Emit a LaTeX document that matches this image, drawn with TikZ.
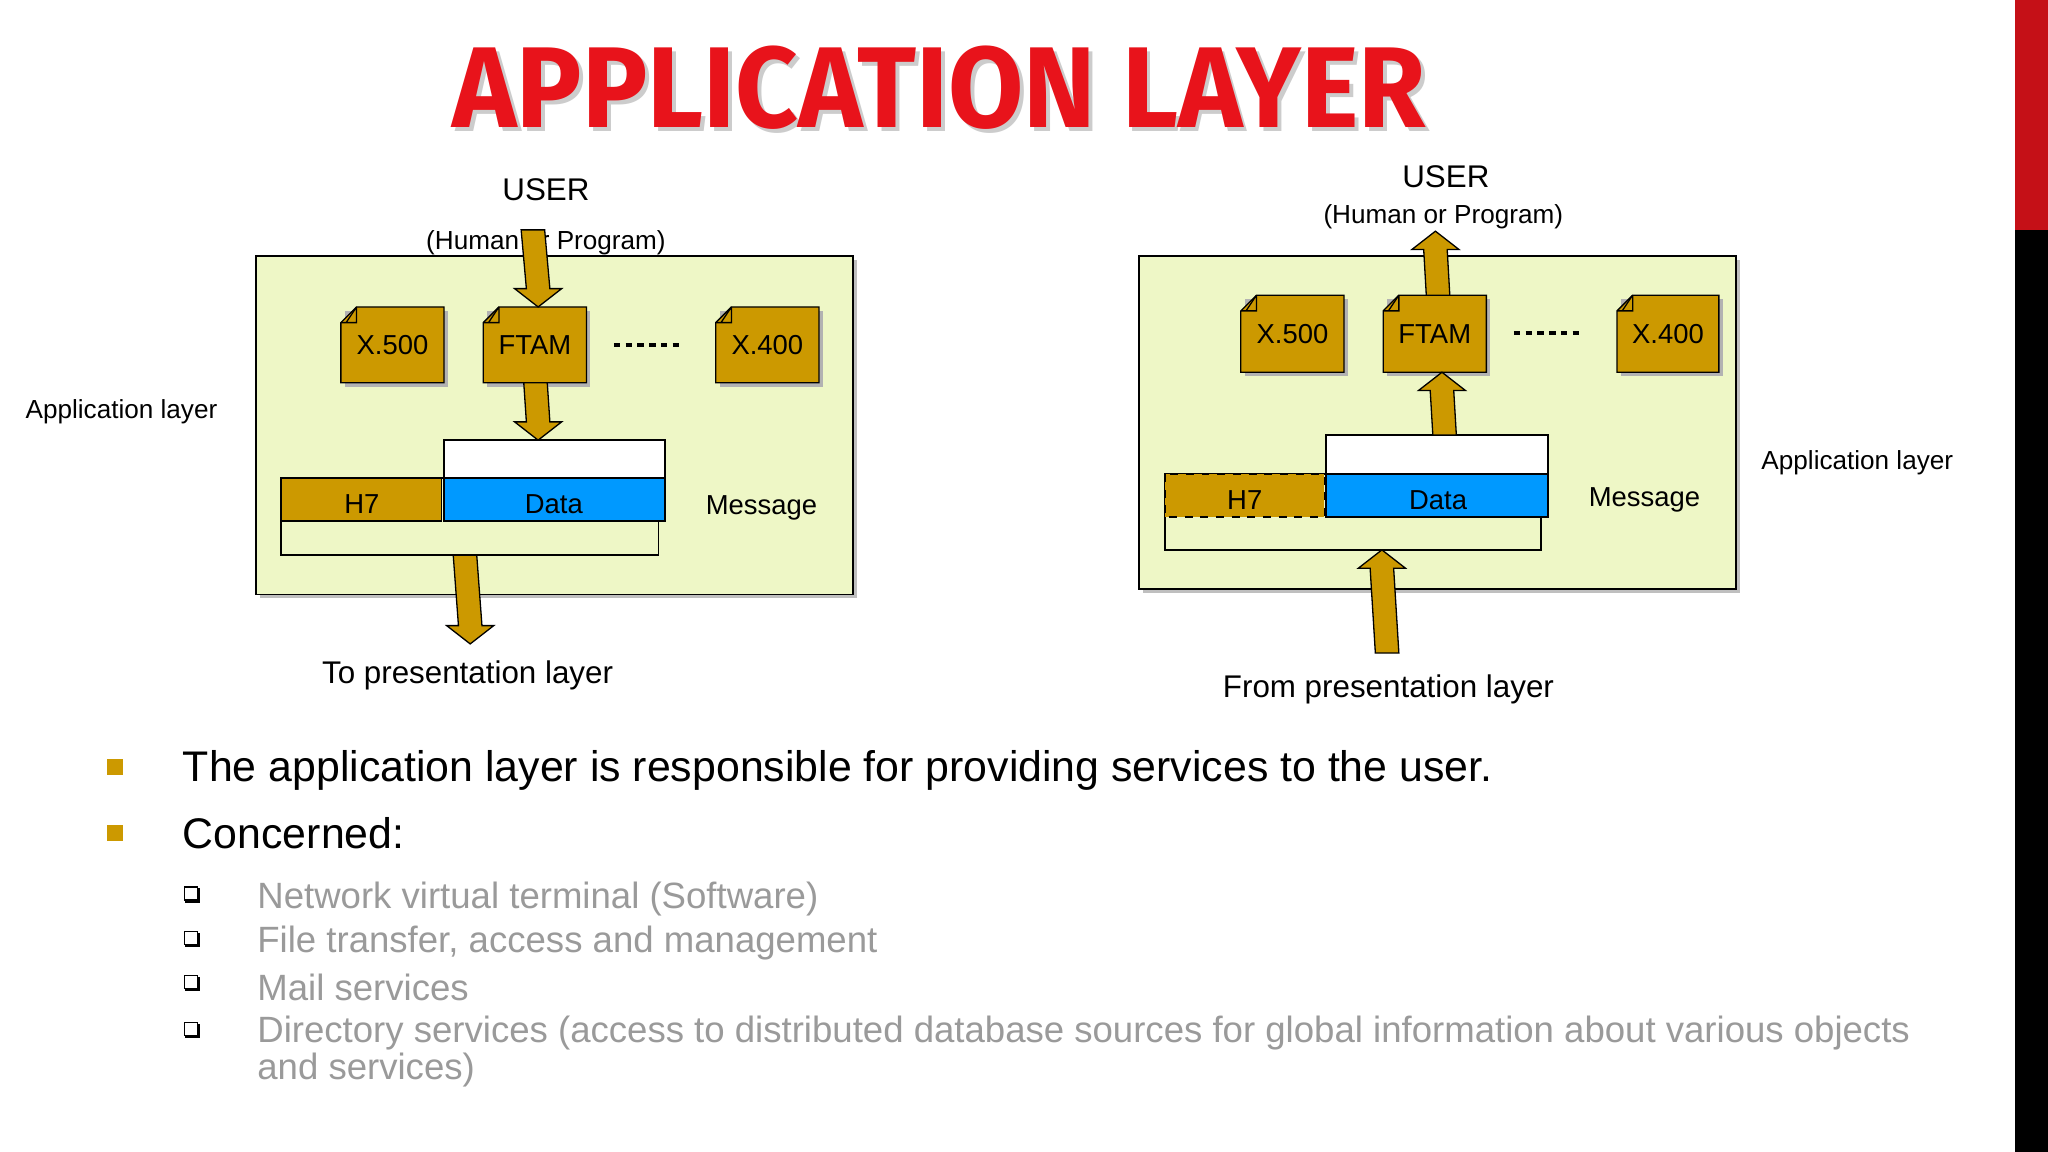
\documentclass[tikz,border=0pt]{standalone}
\usepackage{fontspec}
\setmainfont{Liberation Sans}
\newfontfamily\titlefont{Fira Sans}
\usetikzlibrary{calc}
\definecolor{gold}{HTML}{CC9900}
\definecolor{pane}{HTML}{EEF7C6}
\definecolor{blue1}{HTML}{0099FF}
\definecolor{redt}{HTML}{E8131B}
\definecolor{grayt}{HTML}{9A9A9A}
\tikzset{
 barrow/.style={draw=black, fill=gold, line width=0.5pt},
 lbl/.style={font=\fontsize{12}{14}\selectfont},
 small/.style={font=\fontsize{10}{12}\selectfont},
 boxt/.style={font=\fontsize{10.5}{12}\selectfont},
 pane/.style={fill=pane, draw=black, line width=0.6pt},
 rectw/.style={draw=black, line width=0.6pt},
}
% vertical block arrow: name, x-start, y-start, x-end, y-end, dir (+1 down, -1 up)
\newcommand\barr[6]{%
 \draw[barrow] (#2-9,#3) -- (#4-9,#5-#6*14) -- (#4-18,#5-#6*14) -- (#4,#5) -- (#4+18,#5-#6*14) -- (#4+9,#5-#6*14) -- (#2+9,#3) -- cycle;
 \coordinate (#1) at (#4,#5);}
\newcommand\docbox[5]{% name, x1,y1,x2,y2
 \fill[gray!60] (#2+3,#3+3) rectangle (#4+3,#5+3);
 \draw[fill=gold, line width=0.5pt] (#2+12,#3)--(#4,#3)--(#4,#5)--(#2,#5)--(#2,#3+12)--cycle;
 \draw[line width=0.5pt] (#2,#3+12)--(#2+12,#3+12)--(#2+12,#3) (#2+12,#3)--(#2+4,#3+12);
 \coordinate (#1) at ({(#2+#4)/2},{(#3+#5)/2});}
\begin{document}
\begin{tikzpicture}[x=0.5pt,y=-0.5pt]
\useasboundingbox (0,0) rectangle (1568,882);
\fill[white] (0,0) rectangle (1568,882);
\fill[redt!85!black] (1543,0) rectangle (1568,176);
\fill[black] (1543,176) rectangle (1568,882);
% title
\node[font=\titlefont\bfseries\fontsize{44}{44}\selectfont, text=gray!40, xscale=0.95] at (722,70) {APPLICATION LAYER};
\node[font=\titlefont\bfseries\fontsize{44}{44}\selectfont, text=redt, xscale=0.95] (title) at (719,67) {APPLICATION LAYER};
% LEFT diagram
\fill[gray!50] (199,199) rectangle (656,458);
\draw[pane] (196,196) rectangle (653,455);
\docbox{lx5}{261}{235}{340}{293}
\docbox{lft}{370}{235}{449}{293}
\docbox{lx4}{548}{235}{627}{293}
\node[boxt] at (lx5) {X.500};
\node[boxt] at (lft) {FTAM};
\node[boxt] at (lx4) {X.400};
\draw[line width=1.6pt, dash pattern=on 2.5pt off 2pt] (470,264) -- (523,264);
\draw[rectw] (215,366) rectangle (504,425);
\draw[rectw,fill=white] (340,337) rectangle (509,366);
\draw[rectw,fill=gold] (215,366) rectangle (338,399);
\draw[rectw,fill=blue1] (340,366) rectangle (509,399);
\node[boxt] (lh7) at (277,386) {H7};
\node[boxt] (ldata) at (424,386) {Data};
\node[boxt] (lmsg) at (583,389) {Message};
\node[lbl] (luser) at (418,145) {USER};
\node[small] (lhum) at (418,186) {(Human or Program)};
\barr{la1}{408}{176}{412}{235}{1}
\barr{la2}{410}{293}{412}{337}{1}
\barr{la3}{356}{425}{360}{493}{1}
\node[small] (lapp) at (93,315) {Application layer};
\node[lbl] (lto) at (358,517) {To presentation layer};
% RIGHT diagram
\fill[gray!50] (875,199) rectangle (1332,454);
\draw[pane] (872,196) rectangle (1329,451);
\docbox{rx5}{950}{226}{1029}{285}
\docbox{rft}{1059}{226}{1138}{285}
\docbox{rx4}{1238}{226}{1316}{285}
\node[boxt] at (rx5) {X.500};
\node[boxt] at (rft) {FTAM};
\node[boxt] at (rx4) {X.400};
\draw[line width=1.6pt, dash pattern=on 2.5pt off 2pt] (1159,255) -- (1212,255);
\draw[rectw] (892,363) rectangle (1180,421);
\draw[rectw,fill=white] (1015,333) rectangle (1185,363);
\draw[fill=gold, line width=0.6pt, dashed] (892,363) rectangle (1014,396);
\draw[rectw,fill=blue1] (1015,363) rectangle (1185,396);
\node[boxt] (rh7) at (953,383) {H7};
\node[boxt] (rdata) at (1101,383) {Data};
\node[boxt] (rmsg) at (1259,383) {Message};
\node[lbl] (ruser) at (1107,135) {USER};
\node[small] (rhum) at (1105,166) {(Human or Program)};
\barr{ra1}{1101}{226}{1099}{177}{-1}
\barr{ra2}{1106}{333}{1104}{285}{-1}
\barr{ra3}{1062}{500}{1058}{421}{-1}
\node[small] (rapp) at (1422,354) {Application layer};
\node[lbl] (rfrom) at (1063,528) {From presentation layer};
% bullets
\fill[gold] (82,581) rectangle (94,593);
\fill[gold] (82,632) rectangle (94,644);
\node[anchor=west, font=\fontsize{16.4}{18}\selectfont] (b1) at (133,590) {The application layer is responsible for providing services to the user.};
\node[anchor=west, font=\fontsize{16.4}{18}\selectfont] (b2) at (133,638) {Concerned:};
\foreach \y in {684,718,752,788} {
 \draw[line width=0.5pt, fill=white] (141,\y-5) rectangle (151,\y+5);
 \draw[line width=1pt] (142,\y+6)--(152,\y+6)--(152,\y-4);
}
\begin{scope}[every node/.style={anchor=west, text=grayt, font=\fontsize{14}{14}\selectfont}]
\node (s1) at (190,688) {Network virtual terminal (Software)};
\node (s2) at (190,722) {File transfer, access and management};
\node (s3) at (190,756) {Mail services};
\node (s4) at (190,791) {Directory services (access to distributed database sources for global information about various objects};
\node (s5) at (190,819) {and services)};
\end{scope}
\end{tikzpicture}
\end{document}
